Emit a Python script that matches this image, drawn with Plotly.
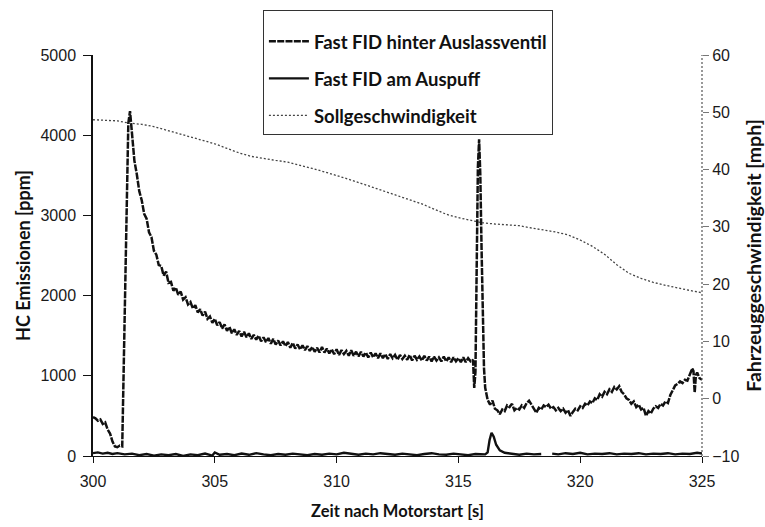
import plotly.graph_objects as go

# HC signal behind the exhaust valve [ppm]
t_ventil = [
    300.0, 300.1, 300.2, 300.3, 300.4, 300.5, 300.6, 300.7, 300.8, 300.9, 301.0, 301.1, 301.2,
    301.25, 301.3, 301.35, 301.4, 301.45, 301.52,
    301.6, 301.7, 301.8, 301.9, 302.0, 302.1, 302.2, 302.3, 302.4, 302.5, 302.6, 302.7, 302.8, 302.9,
    303.0, 303.1, 303.2, 303.3, 303.4, 303.5, 303.6, 303.7, 303.8, 303.9,
    304.0, 304.1, 304.2, 304.3, 304.4, 304.5, 304.6, 304.7, 304.8, 304.9,
    305.0, 305.1, 305.2, 305.3, 305.4, 305.5, 305.6, 305.7, 305.8, 305.9,
    306.0, 306.1, 306.2, 306.3, 306.4, 306.5, 306.6, 306.7, 306.8, 306.9,
    307.0, 307.1, 307.2, 307.3, 307.4, 307.5, 307.6, 307.7, 307.8, 307.9,
    308.0, 308.1, 308.2, 308.3, 308.4, 308.5, 308.6, 308.7, 308.8, 308.9,
    309.0, 309.1, 309.2, 309.3, 309.4, 309.5, 309.6, 309.7, 309.8, 309.9,
    310.0, 310.1, 310.2, 310.3, 310.4, 310.5, 310.6, 310.7, 310.8, 310.9,
    311.0, 311.1, 311.2, 311.3, 311.4, 311.5, 311.6, 311.7, 311.8, 311.9,
    312.0, 312.1, 312.2, 312.3, 312.4, 312.5, 312.6, 312.7, 312.8, 312.9,
    313.0, 313.1, 313.2, 313.3, 313.4, 313.5, 313.6, 313.7, 313.8, 313.9,
    314.0, 314.1, 314.2, 314.3, 314.4, 314.5, 314.6, 314.7, 314.8, 314.9,
    315.0, 315.1, 315.2, 315.3, 315.4, 315.5, 315.6, 315.65,
    315.7, 315.75, 315.8, 315.85, 315.9, 315.95, 316.0, 316.05, 316.1,
    316.2, 316.3, 316.4, 316.5, 316.6, 316.7, 316.8, 316.9,
    317.0, 317.1, 317.2, 317.3, 317.4, 317.5, 317.6, 317.7, 317.8, 317.9,
    318.0, 318.1, 318.2, 318.3, 318.4, 318.5, 318.6, 318.7, 318.8, 318.9,
    319.0, 319.1, 319.2, 319.3, 319.4, 319.5, 319.6, 319.7, 319.8, 319.9,
    320.0, 320.1, 320.2, 320.3, 320.4, 320.5, 320.6, 320.7, 320.8, 320.9,
    321.0, 321.1, 321.2, 321.3, 321.4, 321.5, 321.6, 321.7, 321.8, 321.9,
    322.0, 322.1, 322.2, 322.3, 322.4, 322.5, 322.6, 322.7, 322.8, 322.9,
    323.0, 323.1, 323.2, 323.3, 323.4, 323.5, 323.6, 323.7, 323.8, 323.9,
    324.0, 324.1, 324.2, 324.3, 324.4, 324.5, 324.6, 324.65, 324.7, 324.75, 324.8, 324.9, 325.0,
]
hc_ventil = [
    486, 470, 440, 455, 400, 420, 330, 280, 180, 120, 110, 130, 120,
    900, 1900, 2900, 3700, 4150, 4300,
    4020, 3680, 3510, 3300, 3190, 3020, 2960, 2790, 2730, 2560, 2510, 2380, 2370, 2250,
    2300, 2160, 2170, 2060, 2100, 2010, 2050, 1950, 1980, 1890,
    1920, 1840, 1880, 1790, 1830, 1750, 1800, 1710, 1740, 1660,
    1710, 1630, 1670, 1590, 1640, 1560, 1610, 1530, 1580, 1510,
    1560, 1490, 1550, 1480, 1530, 1460, 1510, 1450, 1500, 1430,
    1480, 1420, 1470, 1400, 1460, 1390, 1440, 1380, 1430, 1370,
    1420, 1350, 1410, 1340, 1390, 1330, 1380, 1320, 1370, 1310,
    1360, 1300, 1350, 1290, 1360, 1290, 1340, 1280, 1330, 1270,
    1330, 1260, 1320, 1270, 1310, 1250, 1320, 1250, 1300, 1240,
    1300, 1240, 1290, 1230, 1290, 1230, 1280, 1220, 1280, 1220,
    1270, 1210, 1270, 1220, 1260, 1200, 1260, 1210, 1250, 1200,
    1260, 1190, 1250, 1200, 1240, 1190, 1250, 1190, 1240, 1180,
    1240, 1190, 1230, 1180, 1240, 1180, 1230, 1170, 1230, 1180,
    1220, 1170, 1230, 1170, 1220, 1180, 1200, 850,
    1050, 2500, 3600, 3950, 3500, 2600, 1800, 1100, 850,
    700, 640, 690, 590, 570, 520, 580, 560,
    630, 610, 650, 570, 600, 580, 630, 600, 660, 690,
    640, 580, 540, 600, 580, 630, 610, 640, 590, 610,
    570, 600, 560, 590, 540, 570, 500, 550, 590, 570,
    620, 600, 650, 630, 680, 660, 720, 700, 770, 740,
    800, 770, 830, 800, 860, 830, 870, 800, 770, 720,
    700, 650, 680, 610, 640, 580, 600, 500, 560, 530,
    590, 620, 600, 650, 630, 680, 660, 760, 820, 880,
    900, 930, 910, 950, 940, 1020, 1090, 1060, 790, 1010, 1040, 970, 950,
]

# HC signal at the tailpipe [ppm]
t_auspuff = [
    300.0, 300.2, 300.4, 300.6, 300.8, 301.0, 301.3, 301.6, 301.9, 302.2, 302.5, 302.8,
    303.1, 303.4, 303.7, 304.0, 304.3, 304.6, 304.9, 305.0, 305.2, 305.5, 305.8,
    306.1, 306.4, 306.7, 307.0, 307.3, 307.6, 307.9, 308.2, 308.5, 308.8,
    309.1, 309.4, 309.7, 310.0, 310.3, 310.6, 310.9, 311.2, 311.5, 311.8,
    312.1, 312.4, 312.7, 313.0, 313.3, 313.6, 313.9, 314.2, 314.5, 314.8,
    315.1, 315.4, 315.7, 316.0, 316.1, 316.2, 316.28, 316.36, 316.45, 316.55,
    316.7, 316.9, 317.2, 317.5, 317.8, 318.1, 318.4, 318.55, 318.85,
    319.1, 319.4, 319.7, 320.0, 320.3, 320.6, 320.9, 321.2, 321.5, 321.8,
    322.1, 322.4, 322.7, 323.0, 323.3, 323.6, 323.9, 324.2, 324.5, 324.8, 325.0,
]
hc_auspuff = [
    35, 45, 30, 40, 25, 35, 20, 30, 10, 25, 5, 20,
    10, 25, 0, 20, 10, 30, 5, 45, 15, 25, 10,
    30, 15, 35, 20, 10, 25, 15, 30, 20, 10,
    25, 15, 30, 20, 40, 25, 15, 30, 20, 35,
    25, 15, 30, 20, 10, 25, 35, 20, 15, 30,
    20, 10, 25, 15, 20, 45, 200, 290, 240, 140,
    70, 40, 25, 15, 30, 20, 25, None, 30,
    20, 35, 25, 40, 20, 30, 25, 35, 20, 30,
    25, 35, 20, 30, 25, 35, 20, 30, 25, 40, 30,
]

# Target vehicle speed [mph]
t_soll = [
    300.0, 300.5, 301.0, 301.5, 302.0, 302.5, 303.0, 303.5, 304.0, 304.5,
    305.0, 305.5, 306.0, 306.5, 307.0, 307.5, 308.0, 308.5, 309.0, 309.5,
    310.0, 310.5, 311.0, 311.5, 312.0, 312.5, 313.0, 313.5, 314.0, 314.5,
    315.0, 315.5, 316.0, 316.5, 317.0, 317.5, 318.0, 318.5, 319.0, 319.5,
    320.0, 320.5, 321.0, 321.5, 322.0, 322.5, 323.0, 323.5, 324.0, 324.5, 325.0,
]
v_soll = [
    48.7, 48.6, 48.5, 48.1, 47.9, 47.5, 46.9, 46.3, 45.6, 45.1,
    44.5, 43.7, 42.9, 42.3, 41.9, 41.6, 41.3, 40.8, 40.2, 39.6,
    39.0, 38.3, 37.6, 36.9, 36.2, 35.5, 34.8, 34.0, 33.1, 32.2,
    31.6, 31.1, 30.7, 30.5, 30.4, 30.2, 29.8, 29.5, 29.1, 28.6,
    27.7, 26.6, 25.2, 23.4, 21.9, 21.0, 20.3, 19.8, 19.3, 18.9, 18.5,
]

x_ticks = [300, 305, 310, 315, 320, 325]
hc_ticks = [0, 1000, 2000, 3000, 4000, 5000]
v_ticks = [-10, 0, 10, 20, 30, 40, 50, 60]

TICK_FONT = dict(family="Liberation Sans", size=16, color="#1a1a1a")


def title_font(size):
    return dict(family="Lato", size=size, color="#111", weight="bold")


fig = go.Figure()

fig.add_trace(go.Scatter(
    x=t_ventil, y=hc_ventil, mode="lines", name="Fast FID hinter Auslassventil",
    legendgroup="a", line=dict(color="#111", width=2.5, dash="7px,1.3px"),
))
fig.add_trace(go.Scatter(
    x=t_auspuff, y=hc_auspuff, mode="lines", name="Fast FID am Auspuff",
    legendgroup="b", line=dict(color="#111", width=2.4),
))
fig.add_trace(go.Scatter(
    x=t_soll, y=v_soll, mode="lines", name="Sollgeschwindigkeit", yaxis="y2",
    legendgroup="c", line=dict(color="#444", width=1.3, dash="2px,2px"),
))

fig.update_layout(
    width=765, height=527,
    margin=dict(l=93, r=63, t=55, b=71, autoexpand=False),
    paper_bgcolor="white", plot_bgcolor="white",
    showlegend=True,
    legend=dict(
        x=0.279, y=1.112, xanchor="left", yanchor="top",
        bordercolor="#333", borderwidth=1, bgcolor="white",
        font=dict(family="Lato", size=18.5, color="#111", weight="bold"),
        title=dict(text=" ", font=dict(size=9)),
        traceorder="grouped", tracegroupgap=10, itemwidth=40,
    ),
    xaxis=dict(
        range=[300, 325], tickvals=x_ticks, ticks="outside", ticklen=6,
        tickcolor="#111", showline=True, linecolor="#111", linewidth=1,
        showgrid=False, zeroline=False, tickfont=TICK_FONT, automargin=False,
        ticklabelstandoff=5,
        title=dict(text="Zeit nach Motorstart [s]", font=title_font(16.5), standoff=16),
    ),
    yaxis=dict(
        range=[0, 5000], tickvals=hc_ticks, ticks="outside", ticklen=8,
        tickcolor="#111", showline=True, linecolor="#111", linewidth=1.5,
        showgrid=False, zeroline=False, tickfont=TICK_FONT, automargin=False,
        ticklabelstandoff=4,
        title=dict(text="HC Emissionen [ppm]", font=title_font(18), standoff=5),
    ),
    yaxis2=dict(
        range=[-10, 60], tickvals=v_ticks, overlaying="y", side="right",
        ticks="outside", ticklen=6, tickcolor="#777", showline=False,
        showgrid=False, zeroline=False, tickfont=TICK_FONT, automargin=False,
        title=dict(text="Fahrzeuggeschwindigkeit [mph]", font=title_font(19.5), standoff=11),
    ),
    # inner halves of the crossing tick marks
    yaxis3=dict(
        range=[0, 5000], tickvals=hc_ticks, overlaying="y", side="left",
        ticks="inside", ticklen=8, tickcolor="#111", showticklabels=False,
        showline=False, showgrid=False, zeroline=False, automargin=False,
    ),
    yaxis4=dict(
        range=[-10, 60], tickvals=v_ticks, overlaying="y", side="right",
        ticks="inside", ticklen=6, tickcolor="#777", showticklabels=False,
        showline=False, showgrid=False, zeroline=False, automargin=False,
    ),
    xaxis2=dict(
        range=[300, 325], tickvals=x_ticks[:-1], overlaying="x", side="bottom",
        ticks="inside", ticklen=6, tickcolor="#111", showticklabels=False,
        showline=False, showgrid=False, zeroline=False, automargin=False,
    ),
    shapes=[
        # dotted right-hand axis line
        dict(type="line", xref="paper", yref="paper", x0=1, x1=1, y0=0, y1=1,
             line=dict(color="#555", width=1.2, dash="2px,2px")),
    ],
)

fig.write_html("out.html")
